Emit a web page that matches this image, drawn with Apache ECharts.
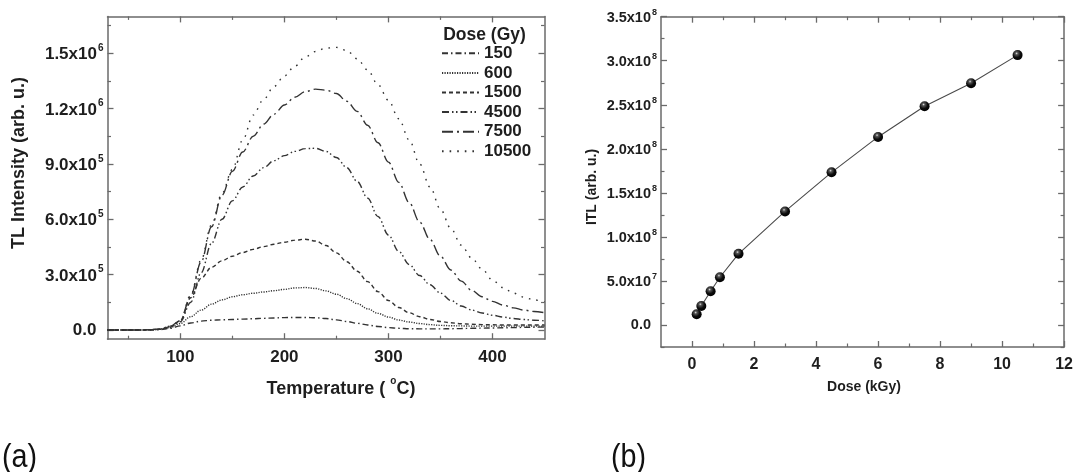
<!DOCTYPE html>
<html>
<head>
<meta charset="utf-8">
<script src="https://cdn.jsdelivr.net/npm/echarts@6/dist/echarts.min.js"></script>
<style>
  html, body { margin: 0; padding: 0; background: #fff; }
  #chart { width: 1076px; height: 472px; }
</style>
</head>
<body>
<div id="chart"></div>
<script>
// ---- (a) TL glow curves: temperature (°C) vs intensity for each dose (Gy)
const temperature = [30, 40, 50, 60, 70, 80, 90, 100, 110, 120,
  130, 140, 150, 160, 170, 180, 190, 200, 210, 220,
  230, 240, 250, 260, 270, 280, 290, 300, 310, 320,
  330, 340, 350, 360, 370, 380, 390, 400, 410, 420,
  430, 440, 450];

const tl150 = [0, 0, 0, 0, 300, 2000, 9000, 22000, 38000, 48000,
  53000, 55000, 57000, 59000, 61000, 63000, 65000, 67000, 68000, 68000,
  66000, 62000, 55000, 46000, 36000, 27000, 19000, 13000, 9000, 7000,
  6000, 6000, 6000, 7000, 8000, 9000, 10000, 11000, 12000, 13000,
  14000, 15000, 16000];

const tl600 = [0, 0, 0, 0, 500, 3000, 12000, 35000, 72000, 108000,
  140000, 163000, 180000, 191000, 199000, 206000, 213000, 220000, 228000, 230000,
  225000, 212000, 194000, 170000, 143000, 115000, 90000, 70000, 54000, 43000,
  35000, 29000, 25000, 23000, 22000, 21000, 21000, 21000, 21000, 21000,
  21000, 21000, 21000];

const tl1500 = [0, 0, 0, 0, 500, 3000, 15000, 50000, 175000, 280000,
  340000, 375000, 400000, 420000, 437000, 452000, 465000, 476000, 487000, 492000,
  482000, 458000, 418000, 370000, 318000, 262000, 208000, 160000, 122000, 93000,
  72000, 57000, 46000, 39000, 34000, 31000, 29000, 28000, 27000, 27000,
  27000, 27000, 27000];

const tl4500 = [0, 0, 0, 0, 1000, 4000, 17000, 45000, 150000, 310000,
  470000, 600000, 700000, 775000, 835000, 880000, 918000, 945000, 968000, 983000,
  985000, 968000, 935000, 880000, 805000, 715000, 615000, 515000, 425000, 355000,
  295000, 245000, 200000, 160000, 130000, 108000, 92000, 80000, 70000, 62000,
  57000, 53000, 50000];

const tl7500 = [0, 0, 0, 0, 1000, 5000, 20000, 50000, 185000, 370000,
  560000, 730000, 860000, 965000, 1050000, 1115000, 1170000, 1220000, 1262000, 1292000,
  1306000, 1300000, 1282000, 1240000, 1185000, 1110000, 1015000, 910000, 800000, 690000,
  585000, 490000, 400000, 325000, 265000, 215000, 180000, 155000, 135000, 120000,
  108000, 100000, 94000];

const tl10500 = [0, 0, 0, 0, 1000, 5000, 20000, 50000, 190000, 380000,
  570000, 740000, 870000, 1030000, 1165000, 1250000, 1320000, 1377000, 1430000, 1480000,
  1510000, 1528000, 1532000, 1515000, 1470000, 1410000, 1330000, 1245000, 1145000, 1030000,
  900000, 775000, 655000, 550000, 460000, 390000, 330000, 270000, 230000, 200000,
  178000, 163000, 152000];

const doseNames = ['150', '600', '1500', '4500', '7500', '10500'];

// ---- (b) integrated TL vs dose (kGy)
const doseKGy = [0.15, 0.3, 0.6, 0.9, 1.5, 3, 4.5, 6, 7.5, 9, 10.5];
const itl = [1.22e7, 2.16e7, 3.83e7, 5.42e7, 8.08e7, 1.289e8, 1.733e8, 2.135e8, 2.484e8, 2.745e8, 3.064e8];

// ---- tick positions
const tempTicks = [100, 200, 300, 400];
const tempMinorTicks = [50, 150, 250, 350];
const tlTicks = [0, 3e5, 6e5, 9e5, 1.2e6, 1.5e6];
const tlMinorTicks = [1.5e5, 4.5e5, 7.5e5, 1.05e6, 1.35e6, 1.65e6];
const doseTicks = [0, 2, 4, 6, 8, 10, 12];
const doseMinorTicks = [1, 3, 5, 7, 9, 11];
const itlTicks = [0, 5e7, 1e8, 1.5e8, 2e8, 2.5e8, 3e8, 3.5e8];
const itlMinorTicks = [-2.5e7, 2.5e7, 7.5e7, 1.25e8, 1.75e8, 2.25e8, 2.75e8, 3.25e8];

const FONT = '"Liberation Sans", Arial, Helvetica, sans-serif';
const INK = '#1e1e1e';
const FRAME = '#6a6a6a';
const CURVE = '#333333';

// mantissa x 10^exponent labels with a raised exponent
function sciLabel(v) {
  if (v === 0) return '{z|0.0}';
  const e = Math.floor(Math.log10(v) + 1e-9);
  const m = (v / Math.pow(10, e)).toFixed(1);
  return '{m|' + m + 'x10}{e|' + e + '}';
}
function sciRich(size, expSize, zPad) {
  return {
    m: { fontSize: size, fontWeight: 'bold', fontFamily: FONT, color: INK, lineHeight: size + 3, verticalAlign: 'bottom' },
    e: { fontSize: expSize, fontWeight: 'bold', fontFamily: FONT, color: INK, lineHeight: expSize + 2, verticalAlign: 'top', padding: [0, 0, 0, 1] },
    z: { fontSize: size, fontWeight: 'bold', fontFamily: FONT, color: INK, lineHeight: size + 3, padding: [0, zPad, 0, 0] }
  };
}

// one side of the frame: a major-tick axis (optionally labelled) plus a minor-tick twin
function frameAxes(grid, pos, min, max, major, minor, label) {
  const base = {
    type: 'value', gridIndex: grid, position: pos, min: min, max: max,
    splitLine: { show: false }, minorTick: { show: false }
  };
  const majorAxis = Object.assign({}, base, {
    axisLine: { show: true, onZero: false, lineStyle: { color: FRAME, width: 1.5 } },
    axisTick: { show: true, inside: true, length: 6, customValues: major, lineStyle: { color: FRAME, width: 1.3 } },
    axisLabel: label ? Object.assign({ show: true, customValues: major }, label) : { show: false }
  });
  const minorAxis = Object.assign({}, base, {
    axisLine: { show: false, onZero: false },
    axisTick: { show: true, inside: true, length: 3.5, customValues: minor, lineStyle: { color: FRAME, width: 1.2 } },
    axisLabel: { show: false }
  });
  return [majorAxis, minorAxis];
}

const xAxes = [].concat(
  frameAxes(0, 'bottom', 30, 450, tempTicks, tempMinorTicks, {
    margin: 10, fontSize: 17, fontWeight: 'bold', fontFamily: FONT, color: INK
  }),
  frameAxes(0, 'top', 30, 450, tempTicks, tempMinorTicks, null),
  frameAxes(1, 'bottom', -1, 12, doseTicks, doseMinorTicks, {
    margin: 10, fontSize: 16, fontWeight: 'bold', fontFamily: FONT, color: INK
  }),
  frameAxes(1, 'top', -1, 12, doseTicks, doseMinorTicks, null)
);
const yAxes = [].concat(
  frameAxes(0, 'left', -5e4, 1.7e6, tlTicks, tlMinorTicks, {
    margin: 4, formatter: sciLabel, rich: sciRich(17, 10, 7)
  }),
  frameAxes(0, 'right', -5e4, 1.7e6, tlTicks, tlMinorTicks, null),
  frameAxes(1, 'left', -2.5e7, 3.5e8, itlTicks, itlMinorTicks, {
    margin: 4, formatter: sciLabel, rich: sciRich(14.5, 9, 6)
  }),
  frameAxes(1, 'right', -2.5e7, 3.5e8, itlTicks, itlMinorTicks, null)
);

const dashes = {
  '150':   [6, 3, 1.5, 3],
  '600':   [1.2, 1.3],
  '1500':  [4, 3],
  '4500':  [7, 3, 1.5, 2.5, 1.5, 3],
  '7500':  [11, 4, 2, 4],
  '10500': [1.6, 6]
};
const glowData = [tl150, tl600, tl1500, tl4500, tl7500, tl10500];

const glowSeries = doseNames.map((name, k) => ({
  name: name,
  type: 'line',
  xAxisIndex: 0,
  yAxisIndex: 0,
  data: temperature.map((t, i) => [t, glowData[k][i]]),
  showSymbol: false,
  symbol: 'none',
  smooth: 0.35,
  smoothMonotone: 'x',
  lineStyle: { color: CURVE, width: 1.4, type: dashes[name] },
  itemStyle: { color: CURVE },
  animation: false
}));

const itlSeries = {
  name: 'ITL',
  type: 'line',
  xAxisIndex: 4,
  yAxisIndex: 4,
  data: doseKGy.map((d, i) => [d, itl[i]]),
  symbol: 'circle',
  symbolSize: 10,
  lineStyle: { color: '#4a4a4a', width: 1.1 },
  itemStyle: {
    color: {
      type: 'radial', x: 0.4, y: 0.33, r: 0.68,
      colorStops: [
        { offset: 0, color: '#dcdcdc' },
        { offset: 0.2, color: '#555' },
        { offset: 0.6, color: '#0c0c0c' },
        { offset: 1, color: '#000' }
      ]
    },
    borderWidth: 0
  },
  animation: false,
  z: 3
};

const titleStyle = (size) => ({ fontSize: size, fontWeight: 'bold', fontFamily: FONT, fill: INK });

const option = {
  backgroundColor: '#fff',
  animation: false,
  grid: [
    { left: 107.5, top: 16.4, width: 437, height: 322.8 },
    { left: 661, top: 16.7, width: 406.3, height: 330.3 }
  ],
  xAxis: xAxes,
  yAxis: yAxes,
  legend: {
    data: doseNames,
    orient: 'vertical',
    left: 441,
    top: 43.5,
    itemWidth: 37,
    itemHeight: 19.6,
    itemGap: 0,
    padding: 0,
    itemStyle: { opacity: 0 },
    textStyle: { fontSize: 17, fontWeight: 'bold', fontFamily: FONT, color: INK, lineHeight: 19.6 },
    selectedMode: false
  },
  series: glowSeries.concat([itlSeries]),
  graphic: [
    { type: 'text', x: 484.5, y: 35, style: Object.assign({ text: 'Dose (Gy)', align: 'center', verticalAlign: 'middle' }, titleStyle(17.5)) },
    { type: 'text', x: 19.5, y: 163, rotation: Math.PI / 2,
      style: Object.assign({ text: 'TL Intensity (arb. u.)', align: 'center', verticalAlign: 'middle' }, titleStyle(18)) },
    { type: 'text', x: 341, y: 387,
      style: {
        text: '{a|Temperature ( }{s|o}{a|C)}', align: 'center', verticalAlign: 'middle',
        rich: {
          a: { fontSize: 18, fontWeight: 'bold', fontFamily: FONT, fill: INK, lineHeight: 22, verticalAlign: 'bottom' },
          s: { fontSize: 10, fontWeight: 'bold', fontFamily: FONT, fill: INK, lineHeight: 12, verticalAlign: 'top' }
        }
      } },
    { type: 'text', x: 592, y: 187, rotation: Math.PI / 2,
      style: Object.assign({ text: 'ITL (arb. u.)', align: 'center', verticalAlign: 'middle' }, titleStyle(14)) },
    { type: 'text', x: 864, y: 387,
      style: Object.assign({ text: 'Dose (kGy)', align: 'center', verticalAlign: 'middle' }, titleStyle(14)) },
    { type: 'text', x: 2, y: 458, scaleX: 0.87,
      style: { text: '(a)', fontSize: 33, fontFamily: FONT, fill: '#111', align: 'left', verticalAlign: 'middle' } },
    { type: 'text', x: 611, y: 458, scaleX: 0.87,
      style: { text: '(b)', fontSize: 33, fontFamily: FONT, fill: '#111', align: 'left', verticalAlign: 'middle' } }
  ]
};

const chart = echarts.init(document.getElementById('chart'), null, { renderer: 'canvas' });
chart.setOption(option);
</script>
</body>
</html>
